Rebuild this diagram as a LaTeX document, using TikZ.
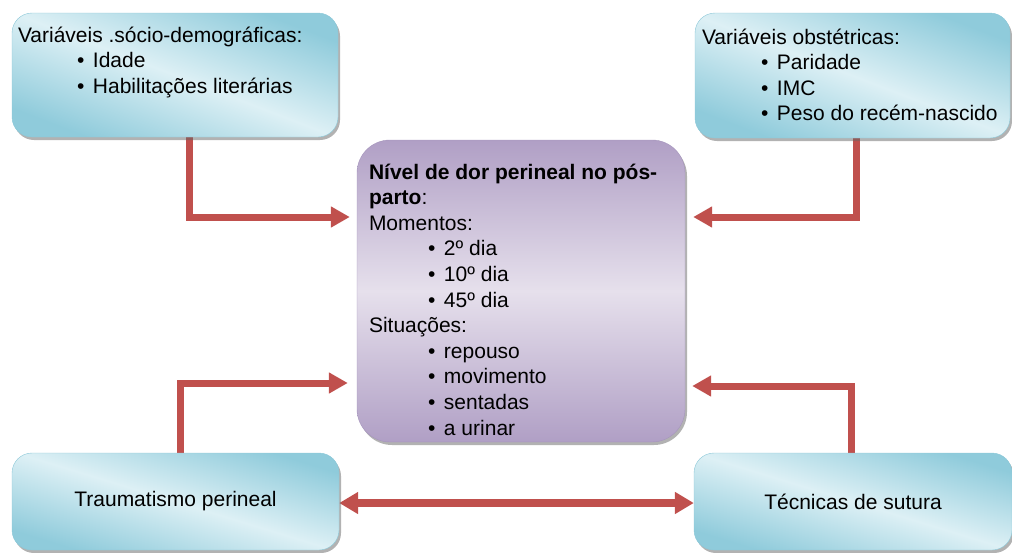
\documentclass[tikz,border=0pt]{standalone}
\usepackage{fontspec}
\setmainfont{Liberation Sans}
\usetikzlibrary{positioning,calc,arrows.meta,shadows,backgrounds}
\definecolor{bxblue}{HTML}{8FCBDB}
\definecolor{bxlight}{HTML}{DDF0F5}
\definecolor{bxedge}{HTML}{8CC8D8}
\definecolor{pudark}{HTML}{B09FC5}
\definecolor{pulight}{HTML}{E6E0EC}
\definecolor{puedge}{HTML}{A595BC}
\definecolor{arred}{HTML}{C0504D}
\newcommand{\bxfont}{\fontsize{21pt}{25.6pt}\selectfont}
\newcommand{\bul}[1]{\hspace*{59pt}\makebox[16pt][l]{\textbullet}#1}
\newcommand{\fst}{\rule{0pt}{20pt}}
\tikzset{
  vbox/.style ={rectangle, rounded corners=20pt, draw=bxedge, thin,
                top color=bxblue, bottom color=bxblue, middle color=bxlight,
                shading angle=-21, align=center, font=\bxfont, inner sep=0pt,
                drop shadow={shadow xshift=2pt, shadow yshift=-3pt, fill=black!60, opacity=.5}},
  pbox/.style  ={vbox, rounded corners=33pt, draw=puedge, shading angle=-43,
                 top color=pudark, bottom color=pudark, middle color=pulight},
  txt/.style   ={anchor=north west, inner sep=0pt, align=left, font=\bxfont},
  fl/.style    ={draw=arred, line width=7pt, -{Triangle[length=19pt,width=20pt]}},
  dfl/.style   ={draw=arred, line width=8pt,
                 {Triangle[length=19pt,width=21pt]}-{Triangle[length=19pt,width=21pt]}}
}
\begin{document}
\begin{tikzpicture}[x=1pt, y=-1pt]
  \useasboundingbox (0,0) rectangle (1012,552);
  % boxes
  \node[vbox,minimum width=326pt,minimum height=124pt] (socio) at (175,75) {};
  \node[vbox,minimum width=315pt,minimum height=125pt] (obst) at (852.5,75.5) {};
  \node[pbox,minimum width=328pt,minimum height=302pt] (dor) at (521,291) {};
  \node[vbox,shading angle=-17,minimum width=327pt,minimum height=97pt] (trauma) at (175.5,501.5) {Traumatismo perineal};
  \node[vbox,shading angle=-17,minimum width=318pt,minimum height=97pt] (sutura) at (853,501.5) {Técnicas de sutura};
  % box texts
  \node[txt] (sociotx) at ($(socio.north west)+(6,9)$)
    {\fst Variáveis .sócio-demográficas:\\\bul{Idade}\\\bul{Habilitações literárias}};
  \node[txt] (obsttx) at ($(obst.north west)+(7,11)$)
    {\fst Variáveis obstétricas:\\\bul{Paridade}\\\bul{IMC}\\\bul{Peso do recém-nascido}};
  \node[txt] (dortx) at ($(dor.north west)+(12,19)$)
    {\fst\textbf{Nível de dor perineal no pós-}\\\textbf{parto}:\\Momentos:\\
     \bul{2º dia}\\\bul{10º dia}\\\bul{45º dia}\\Situações:\\
     \bul{repouso}\\\bul{movimento}\\\bul{sentadas}\\\bul{a urinar}};
  % connectors
  \begin{scope}[on background layer]
    \draw[fl,shorten >=7pt] ($(socio.south)+(14.5,0)$) |- ($(dor.west)+(0,-74)$);
    \draw[fl,shorten >=8pt] ($(obst.south)+(3.5,0)$) |- ($(dor.east)+(0,-74)$);
    \draw[fl,shorten >=9pt] ($(trauma.north)+(5,0)$) |- ($(dor.west)+(0,92)$);
    \draw[fl,shorten >=7pt] ($(sutura.north)+(-1.5,0)$) |- ($(dor.east)+(0,95)$);
    \draw[dfl] ($(trauma.east)+(0,1.5)$) -- ($(sutura.west)+(0,1.5)$);
  \end{scope}
\end{tikzpicture}
\end{document}
